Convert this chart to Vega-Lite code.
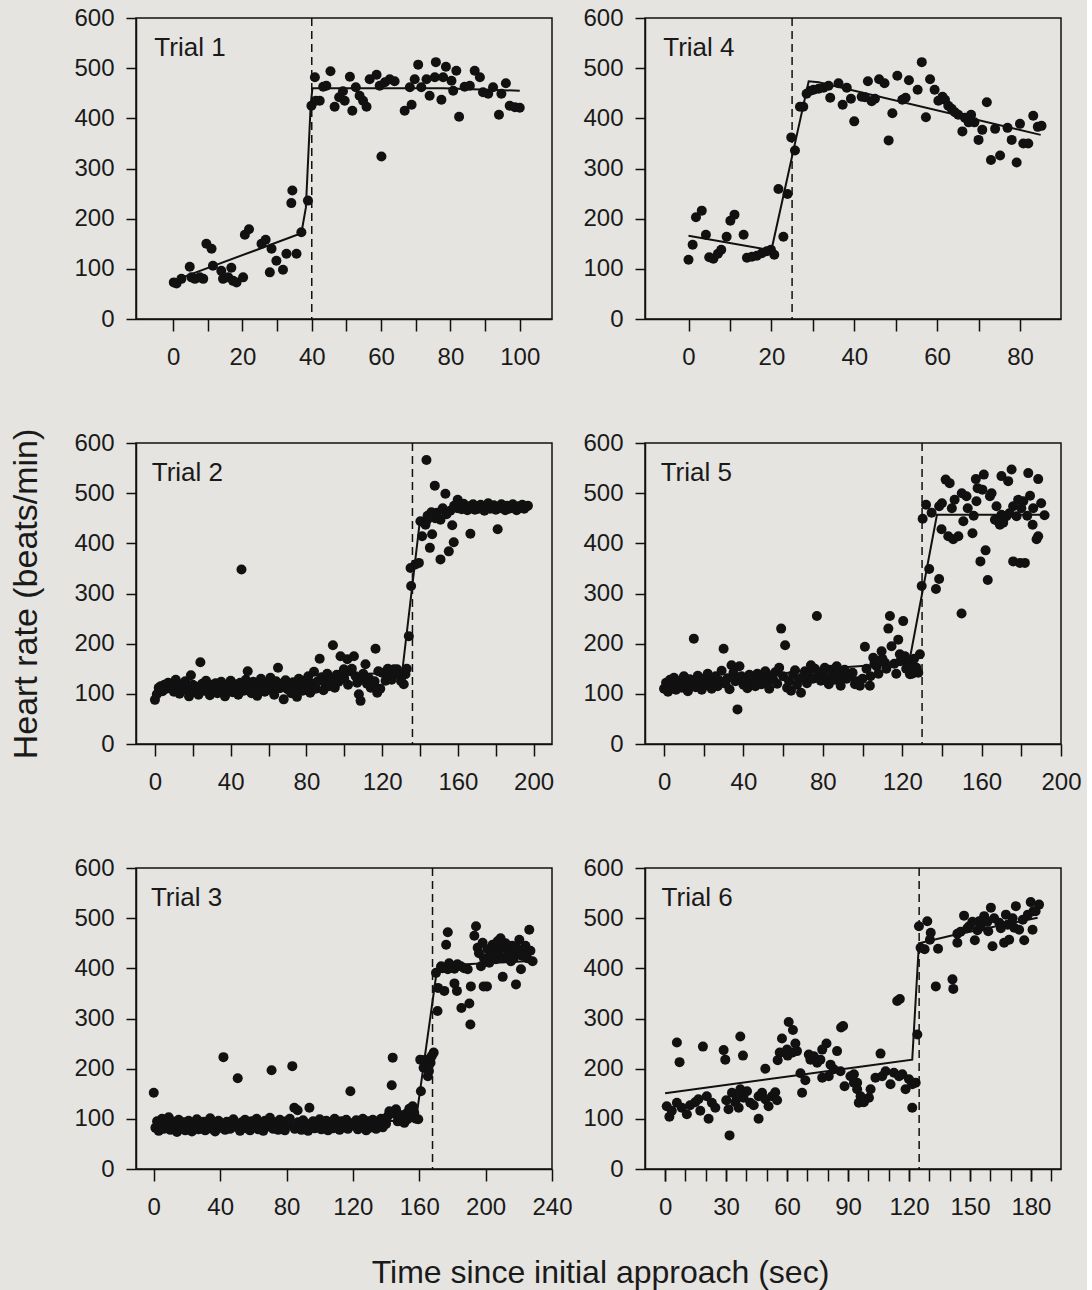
{
"$schema":"https://vega.github.io/schema/vega-lite/v6.json",
"padding":{"left":9,"top":5,"right":5,"bottom":5},
"background":"#e5e4e0",
"bounds":"flush",
"columns":2,
"spacing":{"row":124,"column":93},
"title":{"text":"Time since initial approach (sec)","orient":"bottom","anchor":"middle","frame":"bounds","fontSize":32,"font":"Liberation Sans","fontWeight":"normal","color":"#1a1a1a","offset":38,"dx":55},
"datasets":{
"t1":[{"t":0.2,"hr":73},{"t":1,"hr":71},{"t":2.4,"hr":80},{"t":4.8,"hr":104},{"t":5.3,"hr":83},{"t":6.3,"hr":80},{"t":7.7,"hr":83},{"t":8.7,"hr":80},{"t":9.6,"hr":150},{"t":11.1,"hr":140},{"t":11.5,"hr":106},{"t":13.9,"hr":96},{"t":14.4,"hr":80},{"t":15.9,"hr":83},{"t":17.3,"hr":76},{"t":16.8,"hr":102},{"t":18.3,"hr":73},{"t":20.2,"hr":83},{"t":20.7,"hr":168},{"t":21.9,"hr":179},{"t":25.5,"hr":150},{"t":26.7,"hr":158},{"t":28.4,"hr":140},{"t":27.9,"hr":93},{"t":29.8,"hr":116},{"t":31.7,"hr":98},{"t":32.7,"hr":130},{"t":35.6,"hr":130},{"t":37,"hr":173},{"t":34.4,"hr":256},{"t":34.1,"hr":231},{"t":38.9,"hr":236},{"t":39.9,"hr":425},{"t":40.9,"hr":482},{"t":41.2,"hr":435},{"t":42.3,"hr":435},{"t":43.3,"hr":463},{"t":45.4,"hr":494},{"t":44.2,"hr":465},{"t":46.6,"hr":423},{"t":47.9,"hr":442},{"t":49,"hr":454},{"t":49.5,"hr":435},{"t":51,"hr":483},{"t":51.7,"hr":415},{"t":52.7,"hr":462},{"t":53.8,"hr":445},{"t":54.8,"hr":435},{"t":55.8,"hr":423},{"t":56.7,"hr":478},{"t":58.7,"hr":487},{"t":59.6,"hr":465},{"t":61.1,"hr":472},{"t":62.5,"hr":478},{"t":63.9,"hr":474},{"t":60.1,"hr":324},{"t":66.8,"hr":415},{"t":68.3,"hr":462},{"t":68.8,"hr":427},{"t":69.7,"hr":478},{"t":70.7,"hr":507},{"t":71.6,"hr":462},{"t":73.1,"hr":478},{"t":74,"hr":445},{"t":75.5,"hr":482},{"t":75.8,"hr":512},{"t":77.4,"hr":437},{"t":77.9,"hr":482},{"t":78.7,"hr":503},{"t":80.3,"hr":475},{"t":80.8,"hr":455},{"t":81.7,"hr":495},{"t":82.5,"hr":403},{"t":84.1,"hr":463},{"t":85.6,"hr":465},{"t":87,"hr":495},{"t":88.5,"hr":482},{"t":89.4,"hr":452},{"t":90.9,"hr":449},{"t":92.3,"hr":462},{"t":94,"hr":407},{"t":94.7,"hr":449},{"t":96,"hr":470},{"t":97.1,"hr":425},{"t":98.6,"hr":422},{"t":100,"hr":421}],
"f1":[{"t":0,"hr":76},{"t":37,"hr":171},{"t":38.3,"hr":222},{"t":39.7,"hr":428},{"t":40.2,"hr":460},{"t":78,"hr":460},{"t":100,"hr":455}],
"t4":[{"t":0,"hr":118},{"t":1,"hr":148},{"t":1.8,"hr":203},{"t":3.2,"hr":216},{"t":4.2,"hr":168},{"t":5,"hr":123},{"t":6,"hr":120},{"t":7.1,"hr":130},{"t":7.9,"hr":138},{"t":9.2,"hr":164},{"t":10.1,"hr":196},{"t":11.1,"hr":208},{"t":13.3,"hr":168},{"t":14.1,"hr":122},{"t":15.3,"hr":124},{"t":16.5,"hr":126},{"t":17.7,"hr":131},{"t":18.9,"hr":135},{"t":19.9,"hr":138},{"t":20.7,"hr":128},{"t":21.7,"hr":259},{"t":22.9,"hr":164},{"t":23.9,"hr":249},{"t":24.8,"hr":362},{"t":25.7,"hr":336},{"t":26.9,"hr":423},{"t":27.7,"hr":423},{"t":28.5,"hr":449},{"t":29.4,"hr":455},{"t":30.2,"hr":457},{"t":31.4,"hr":459},{"t":32.6,"hr":461},{"t":33.8,"hr":465},{"t":34.2,"hr":441},{"t":36.2,"hr":470},{"t":37.2,"hr":427},{"t":38.2,"hr":461},{"t":39.2,"hr":439},{"t":40,"hr":394},{"t":41.8,"hr":443},{"t":42.6,"hr":442},{"t":43.3,"hr":474},{"t":44.2,"hr":434},{"t":45,"hr":439},{"t":46,"hr":478},{"t":47.3,"hr":470},{"t":48.3,"hr":356},{"t":49.2,"hr":410},{"t":50.4,"hr":485},{"t":51.6,"hr":437},{"t":52.4,"hr":441},{"t":53.2,"hr":476},{"t":55.3,"hr":457},{"t":56.3,"hr":512},{"t":57.3,"hr":402},{"t":58.3,"hr":478},{"t":59.4,"hr":457},{"t":60.3,"hr":435},{"t":61.3,"hr":443},{"t":61.9,"hr":437},{"t":62.7,"hr":425},{"t":63.5,"hr":419},{"t":64.3,"hr":412},{"t":65.1,"hr":407},{"t":66.1,"hr":374},{"t":66.7,"hr":401},{"t":67.6,"hr":392},{"t":68.2,"hr":407},{"t":69,"hr":392},{"t":70,"hr":357},{"t":70.9,"hr":377},{"t":72,"hr":432},{"t":73,"hr":317},{"t":74,"hr":379},{"t":75.2,"hr":326},{"t":77,"hr":381},{"t":78,"hr":357},{"t":79.2,"hr":312},{"t":80,"hr":389},{"t":80.8,"hr":350},{"t":82,"hr":350},{"t":83.2,"hr":405},{"t":84.3,"hr":383},{"t":85.2,"hr":385}],
"f4":[{"t":0,"hr":166},{"t":20,"hr":137},{"t":29,"hr":474},{"t":31.4,"hr":472},{"t":85,"hr":367}],
"t2":[{"t":0,"hr":88},{"t":1,"hr":99},{"t":2,"hr":112},{"t":3,"hr":115},{"t":4,"hr":105},{"t":5,"hr":118},{"t":6,"hr":110},{"t":7,"hr":122},{"t":8,"hr":113},{"t":9,"hr":120},{"t":10,"hr":104},{"t":11,"hr":128},{"t":12,"hr":116},{"t":13,"hr":100},{"t":14,"hr":119},{"t":15,"hr":108},{"t":16,"hr":125},{"t":17,"hr":112},{"t":18,"hr":95},{"t":19,"hr":137},{"t":20,"hr":118},{"t":21,"hr":104},{"t":22,"hr":114},{"t":23,"hr":98},{"t":24,"hr":163},{"t":25,"hr":120},{"t":26,"hr":106},{"t":27,"hr":126},{"t":28,"hr":112},{"t":29,"hr":97},{"t":30,"hr":118},{"t":31,"hr":109},{"t":32,"hr":121},{"t":33,"hr":101},{"t":34,"hr":115},{"t":35,"hr":124},{"t":36,"hr":108},{"t":37,"hr":95},{"t":38,"hr":117},{"t":39,"hr":111},{"t":40,"hr":126},{"t":41,"hr":103},{"t":42,"hr":119},{"t":43,"hr":110},{"t":44,"hr":98},{"t":45,"hr":122},{"t":45.7,"hr":348},{"t":46,"hr":113},{"t":47,"hr":106},{"t":48,"hr":128},{"t":49,"hr":145},{"t":50,"hr":117},{"t":51,"hr":101},{"t":52,"hr":124},{"t":53,"hr":110},{"t":54,"hr":96},{"t":55,"hr":119},{"t":56,"hr":130},{"t":57,"hr":112},{"t":58,"hr":104},{"t":59,"hr":121},{"t":60,"hr":108},{"t":61,"hr":132},{"t":62,"hr":115},{"t":63,"hr":98},{"t":64,"hr":125},{"t":65,"hr":152},{"t":66,"hr":111},{"t":67,"hr":120},{"t":68,"hr":89},{"t":69,"hr":127},{"t":70,"hr":109},{"t":71,"hr":116},{"t":72,"hr":101},{"t":73,"hr":123},{"t":74,"hr":112},{"t":75,"hr":94},{"t":76,"hr":130},{"t":77,"hr":118},{"t":78,"hr":106},{"t":79,"hr":126},{"t":80,"hr":113},{"t":81,"hr":135},{"t":82,"hr":102},{"t":83,"hr":120},{"t":84,"hr":144},{"t":85,"hr":110},{"t":86,"hr":125},{"t":87,"hr":170},{"t":88,"hr":133},{"t":89,"hr":107},{"t":90,"hr":120},{"t":91,"hr":140},{"t":92,"hr":115},{"t":93,"hr":128},{"t":94,"hr":197},{"t":95,"hr":112},{"t":96,"hr":138},{"t":97,"hr":124},{"t":98,"hr":175},{"t":101.6,"hr":169},{"t":105.1,"hr":175},{"t":99.8,"hr":149},{"t":103.3,"hr":145},{"t":106,"hr":135},{"t":111.2,"hr":159},{"t":116.5,"hr":190},{"t":106.8,"hr":122},{"t":107.7,"hr":99},{"t":108.6,"hr":86},{"t":115.6,"hr":119},{"t":117.4,"hr":102},{"t":120,"hr":142},{"t":121.8,"hr":126},{"t":124.4,"hr":135},{"t":126.2,"hr":149},{"t":127.9,"hr":149},{"t":129.7,"hr":135},{"t":131.4,"hr":119},{"t":132.3,"hr":139},{"t":99,"hr":140},{"t":100,"hr":130},{"t":102,"hr":118},{"t":104,"hr":150},{"t":109,"hr":128},{"t":110,"hr":140},{"t":112,"hr":120},{"t":113,"hr":131},{"t":114,"hr":112},{"t":116,"hr":125},{"t":118,"hr":145},{"t":119,"hr":110},{"t":123,"hr":150},{"t":125,"hr":128},{"t":127,"hr":140},{"t":130,"hr":125},{"t":133,"hr":150},{"t":134.1,"hr":215},{"t":135.3,"hr":315},{"t":135,"hr":351},{"t":137.6,"hr":358},{"t":139.4,"hr":361},{"t":140.2,"hr":444},{"t":141.1,"hr":414},{"t":142.9,"hr":437},{"t":143.4,"hr":566},{"t":143.8,"hr":447},{"t":145.2,"hr":391},{"t":146.4,"hr":418},{"t":147.8,"hr":515},{"t":149,"hr":461},{"t":150.8,"hr":368},{"t":150.8,"hr":447},{"t":153.4,"hr":499},{"t":155.2,"hr":384},{"t":157,"hr":436},{"t":157.8,"hr":402},{"t":159.6,"hr":471},{"t":159.9,"hr":487},{"t":166.6,"hr":419},{"t":181,"hr":428},{"t":144,"hr":455},{"t":146,"hr":462},{"t":148,"hr":450},{"t":152,"hr":470},{"t":154,"hr":458},{"t":156,"hr":465},{"t":158,"hr":475},{"t":160,"hr":470},{"t":161,"hr":476},{"t":162,"hr":468},{"t":163,"hr":479},{"t":164,"hr":472},{"t":165,"hr":466},{"t":166,"hr":474},{"t":167,"hr":470},{"t":168,"hr":478},{"t":169,"hr":467},{"t":170,"hr":473},{"t":171,"hr":469},{"t":172,"hr":477},{"t":173,"hr":471},{"t":174,"hr":465},{"t":175,"hr":474},{"t":176,"hr":480},{"t":177,"hr":469},{"t":178,"hr":472},{"t":179,"hr":476},{"t":180,"hr":467},{"t":181.5,"hr":473},{"t":182,"hr":470},{"t":183,"hr":478},{"t":184,"hr":471},{"t":185,"hr":466},{"t":186,"hr":475},{"t":187,"hr":469},{"t":188,"hr":473},{"t":189,"hr":478},{"t":190,"hr":470},{"t":191,"hr":466},{"t":192,"hr":474},{"t":193,"hr":471},{"t":194,"hr":477},{"t":195,"hr":469},{"t":196,"hr":473},{"t":197,"hr":475}],
"f2":[{"t":0,"hr":109},{"t":72,"hr":122},{"t":108,"hr":140},{"t":130.5,"hr":141},{"t":140,"hr":447},{"t":149,"hr":461},{"t":160,"hr":472},{"t":198,"hr":474}],
"t5":[{"t":0,"hr":110},{"t":1,"hr":122},{"t":2,"hr":104},{"t":3,"hr":128},{"t":4,"hr":115},{"t":5,"hr":132},{"t":6,"hr":108},{"t":7,"hr":119},{"t":8,"hr":126},{"t":9,"hr":112},{"t":10,"hr":135},{"t":11,"hr":118},{"t":12,"hr":105},{"t":13,"hr":129},{"t":14,"hr":121},{"t":15,"hr":210},{"t":16,"hr":113},{"t":17,"hr":136},{"t":18,"hr":124},{"t":19,"hr":108},{"t":20,"hr":130},{"t":21,"hr":117},{"t":22,"hr":140},{"t":23,"hr":122},{"t":24,"hr":110},{"t":25,"hr":127},{"t":26,"hr":135},{"t":27,"hr":115},{"t":28,"hr":126},{"t":29,"hr":146},{"t":30,"hr":190},{"t":31,"hr":120},{"t":32,"hr":131},{"t":33,"hr":109},{"t":34,"hr":157},{"t":35,"hr":142},{"t":36,"hr":125},{"t":37,"hr":69},{"t":38,"hr":155},{"t":39,"hr":135},{"t":40,"hr":118},{"t":41,"hr":128},{"t":42,"hr":111},{"t":43,"hr":138},{"t":44,"hr":124},{"t":45,"hr":132},{"t":46,"hr":115},{"t":47,"hr":140},{"t":48,"hr":127},{"t":49,"hr":119},{"t":50,"hr":133},{"t":51,"hr":145},{"t":52,"hr":122},{"t":53,"hr":110},{"t":54,"hr":136},{"t":55,"hr":128},{"t":56,"hr":143},{"t":57,"hr":120},{"t":58,"hr":152},{"t":59,"hr":230},{"t":60,"hr":135},{"t":61,"hr":197},{"t":62,"hr":112},{"t":63,"hr":125},{"t":64,"hr":106},{"t":65,"hr":138},{"t":66,"hr":147},{"t":67,"hr":118},{"t":68,"hr":129},{"t":69,"hr":102},{"t":70,"hr":134},{"t":71,"hr":145},{"t":72,"hr":121},{"t":73,"hr":138},{"t":74,"hr":157},{"t":75,"hr":130},{"t":76,"hr":150},{"t":77,"hr":255},{"t":78,"hr":138},{"t":79,"hr":126},{"t":80,"hr":145},{"t":81,"hr":152},{"t":82,"hr":131},{"t":83,"hr":119},{"t":84,"hr":148},{"t":85,"hr":136},{"t":86,"hr":128},{"t":87,"hr":155},{"t":88,"hr":140},{"t":89,"hr":116},{"t":90,"hr":132},{"t":91,"hr":148},{"t":93.7,"hr":135},{"t":96.2,"hr":119},{"t":98.7,"hr":116},{"t":101.2,"hr":194},{"t":103.7,"hr":116},{"t":105.4,"hr":172},{"t":107.1,"hr":155},{"t":109.6,"hr":185},{"t":111.3,"hr":162},{"t":113,"hr":230},{"t":113.8,"hr":255},{"t":114.6,"hr":195},{"t":118,"hr":208},{"t":118.8,"hr":179},{"t":120.5,"hr":245},{"t":121.4,"hr":175},{"t":123,"hr":159},{"t":123.9,"hr":139},{"t":125.6,"hr":155},{"t":127.2,"hr":152},{"t":128.9,"hr":179},{"t":128.1,"hr":142},{"t":92,"hr":130},{"t":95,"hr":142},{"t":97,"hr":125},{"t":100,"hr":130},{"t":102,"hr":150},{"t":104,"hr":135},{"t":106,"hr":160},{"t":108,"hr":140},{"t":110,"hr":170},{"t":112,"hr":150},{"t":116,"hr":160},{"t":117,"hr":140},{"t":119,"hr":165},{"t":122,"hr":150},{"t":125,"hr":140},{"t":126,"hr":170},{"t":129.8,"hr":315},{"t":133.6,"hr":349},{"t":137,"hr":309},{"t":138.6,"hr":329},{"t":132,"hr":477},{"t":134.8,"hr":461},{"t":138.6,"hr":474},{"t":130.3,"hr":449},{"t":141.9,"hr":527},{"t":143.9,"hr":520},{"t":146.4,"hr":487},{"t":139.8,"hr":428},{"t":143.2,"hr":414},{"t":145.7,"hr":408},{"t":148.3,"hr":414},{"t":150.8,"hr":444},{"t":152.4,"hr":494},{"t":155.4,"hr":420},{"t":157.4,"hr":484},{"t":159.4,"hr":364},{"t":162,"hr":386},{"t":163.1,"hr":327},{"t":149.9,"hr":260},{"t":157.1,"hr":528},{"t":161.1,"hr":537},{"t":160.4,"hr":507},{"t":164.2,"hr":494},{"t":167.5,"hr":474},{"t":166.7,"hr":447},{"t":169.2,"hr":437},{"t":170.9,"hr":441},{"t":172.5,"hr":454},{"t":170,"hr":534},{"t":173.4,"hr":524},{"t":175.1,"hr":547},{"t":175.9,"hr":474},{"t":178.4,"hr":487},{"t":181,"hr":484},{"t":184.4,"hr":495},{"t":183.5,"hr":540},{"t":188.5,"hr":528},{"t":175.9,"hr":364},{"t":179.3,"hr":361},{"t":181.8,"hr":361},{"t":185.7,"hr":437},{"t":188.5,"hr":414},{"t":187.7,"hr":408},{"t":191.7,"hr":456},{"t":177.6,"hr":454},{"t":170,"hr":457},{"t":140,"hr":480},{"t":145,"hr":470},{"t":150,"hr":500},{"t":153,"hr":470},{"t":156,"hr":455},{"t":158,"hr":510},{"t":165,"hr":500},{"t":168,"hr":445},{"t":174,"hr":460},{"t":180,"hr":470},{"t":183,"hr":455},{"t":186,"hr":470},{"t":190,"hr":480}],
"f5":[{"t":0,"hr":118},{"t":43,"hr":133},{"t":80,"hr":150},{"t":98,"hr":155},{"t":123.5,"hr":163},{"t":137.5,"hr":457},{"t":191,"hr":457}],
"t3":[{"t":0,"hr":152},{"t":1,"hr":82},{"t":2,"hr":95},{"t":3,"hr":76},{"t":4,"hr":88},{"t":5,"hr":100},{"t":6,"hr":80},{"t":7,"hr":92},{"t":8,"hr":86},{"t":9,"hr":103},{"t":10,"hr":78},{"t":11,"hr":95},{"t":12,"hr":84},{"t":13,"hr":90},{"t":14,"hr":74},{"t":15,"hr":98},{"t":16,"hr":86},{"t":17,"hr":80},{"t":18,"hr":93},{"t":19,"hr":77},{"t":20,"hr":89},{"t":21,"hr":96},{"t":22,"hr":82},{"t":23,"hr":75},{"t":24,"hr":91},{"t":25,"hr":86},{"t":26,"hr":99},{"t":27,"hr":79},{"t":28,"hr":88},{"t":29,"hr":83},{"t":30,"hr":94},{"t":31,"hr":77},{"t":32,"hr":90},{"t":33,"hr":85},{"t":34,"hr":101},{"t":35,"hr":80},{"t":36,"hr":92},{"t":37,"hr":75},{"t":38,"hr":87},{"t":39,"hr":96},{"t":40,"hr":82},{"t":41,"hr":89},{"t":42,"hr":223},{"t":43,"hr":78},{"t":44,"hr":94},{"t":45,"hr":86},{"t":46,"hr":80},{"t":47,"hr":91},{"t":48,"hr":99},{"t":49,"hr":84},{"t":50.6,"hr":181},{"t":51,"hr":88},{"t":52,"hr":76},{"t":53,"hr":93},{"t":54,"hr":85},{"t":55,"hr":98},{"t":56,"hr":81},{"t":57,"hr":90},{"t":58,"hr":77},{"t":59,"hr":95},{"t":60,"hr":87},{"t":61,"hr":83},{"t":62,"hr":100},{"t":63,"hr":79},{"t":64,"hr":92},{"t":65,"hr":86},{"t":66,"hr":76},{"t":67,"hr":96},{"t":68,"hr":84},{"t":69,"hr":89},{"t":70,"hr":102},{"t":71,"hr":197},{"t":72,"hr":80},{"t":73,"hr":93},{"t":74,"hr":87},{"t":75,"hr":78},{"t":76,"hr":98},{"t":77,"hr":85},{"t":78,"hr":91},{"t":79,"hr":77},{"t":80,"hr":95},{"t":81,"hr":88},{"t":82,"hr":100},{"t":83.5,"hr":205},{"t":84.7,"hr":122},{"t":85,"hr":80},{"t":86.7,"hr":117},{"t":87,"hr":93},{"t":88,"hr":86},{"t":89,"hr":78},{"t":90,"hr":97},{"t":91,"hr":84},{"t":92,"hr":90},{"t":93,"hr":76},{"t":93.8,"hr":122},{"t":95,"hr":88},{"t":96,"hr":95},{"t":97,"hr":81},{"t":98,"hr":92},{"t":99,"hr":86},{"t":100,"hr":99},{"t":101,"hr":79},{"t":102,"hr":90},{"t":103,"hr":84},{"t":104,"hr":96},{"t":105,"hr":77},{"t":106,"hr":93},{"t":107,"hr":87},{"t":108,"hr":81},{"t":109,"hr":100},{"t":110,"hr":85},{"t":111,"hr":92},{"t":112,"hr":78},{"t":113,"hr":95},{"t":114,"hr":88},{"t":115,"hr":83},{"t":116,"hr":98},{"t":117,"hr":80},{"t":118.5,"hr":155},{"t":119,"hr":90},{"t":120,"hr":91},{"t":121,"hr":86},{"t":122,"hr":97},{"t":123,"hr":79},{"t":124,"hr":93},{"t":125,"hr":84},{"t":126,"hr":100},{"t":127,"hr":88},{"t":128,"hr":77},{"t":129,"hr":95},{"t":130,"hr":82},{"t":131,"hr":91},{"t":132,"hr":98},{"t":133,"hr":85},{"t":134,"hr":80},{"t":135,"hr":94},{"t":136,"hr":87},{"t":137,"hr":100},{"t":138,"hr":83},{"t":139,"hr":96},{"t":140,"hr":90},{"t":141,"hr":105},{"t":142,"hr":115},{"t":143.4,"hr":167},{"t":144,"hr":222},{"t":145,"hr":110},{"t":146,"hr":119},{"t":147,"hr":95},{"t":148,"hr":108},{"t":149,"hr":105},{"t":150,"hr":100},{"t":151,"hr":92},{"t":152,"hr":110},{"t":153,"hr":99},{"t":154,"hr":120},{"t":155,"hr":105},{"t":156,"hr":125},{"t":157,"hr":112},{"t":158,"hr":100},{"t":159.4,"hr":99},{"t":161,"hr":155},{"t":162.6,"hr":202},{"t":160.6,"hr":218},{"t":163.7,"hr":218},{"t":165.2,"hr":185},{"t":166.8,"hr":212},{"t":168.7,"hr":232},{"t":165.8,"hr":195},{"t":167.5,"hr":225},{"t":170.1,"hr":391},{"t":171.3,"hr":361},{"t":171,"hr":315},{"t":173.2,"hr":404},{"t":175.1,"hr":355},{"t":176.2,"hr":447},{"t":177.2,"hr":472},{"t":177.2,"hr":398},{"t":181.2,"hr":399},{"t":181.2,"hr":370},{"t":182.7,"hr":355},{"t":185.1,"hr":404},{"t":185.4,"hr":321},{"t":189.2,"hr":398},{"t":190.2,"hr":330},{"t":190.8,"hr":288},{"t":191.1,"hr":364},{"t":193.2,"hr":465},{"t":194.2,"hr":484},{"t":195.2,"hr":441},{"t":197.2,"hr":404},{"t":198.2,"hr":451},{"t":198.8,"hr":364},{"t":200.8,"hr":364},{"t":201.2,"hr":438},{"t":202.2,"hr":411},{"t":204.2,"hr":447},{"t":206.2,"hr":418},{"t":207.2,"hr":454},{"t":210.3,"hr":441},{"t":210.3,"hr":383},{"t":213.3,"hr":444},{"t":215.3,"hr":414},{"t":218.3,"hr":432},{"t":218.3,"hr":368},{"t":220.3,"hr":457},{"t":221.3,"hr":398},{"t":223.3,"hr":431},{"t":226.3,"hr":477},{"t":228.3,"hr":414},{"t":196,"hr":430},{"t":199,"hr":420},{"t":203,"hr":425},{"t":205,"hr":440},{"t":208,"hr":430},{"t":209,"hr":460},{"t":211,"hr":420},{"t":212,"hr":450},{"t":214,"hr":430},{"t":216,"hr":445},{"t":217,"hr":420},{"t":219,"hr":440},{"t":222,"hr":425},{"t":224,"hr":445},{"t":225,"hr":420},{"t":227,"hr":435},{"t":180,"hr":404},{"t":183,"hr":408},{"t":187,"hr":400},{"t":178,"hr":410},{"t":174,"hr":400}],
"f3":[{"t":0,"hr":82},{"t":158,"hr":97},{"t":171,"hr":405},{"t":229,"hr":415}],
"t6":[{"t":0.8,"hr":125},{"t":3.3,"hr":116},{"t":2.1,"hr":104},{"t":5.8,"hr":132},{"t":8.2,"hr":122},{"t":10.7,"hr":109},{"t":12.3,"hr":127},{"t":14.8,"hr":133},{"t":16.4,"hr":139},{"t":17.3,"hr":116},{"t":21.4,"hr":100},{"t":20.5,"hr":145},{"t":23,"hr":132},{"t":24.7,"hr":122},{"t":30.1,"hr":137},{"t":31.2,"hr":119},{"t":32.9,"hr":152},{"t":34.5,"hr":133},{"t":36.2,"hr":122},{"t":38.6,"hr":142},{"t":40.3,"hr":155},{"t":41.9,"hr":132},{"t":43.6,"hr":127},{"t":46,"hr":145},{"t":47.7,"hr":152},{"t":49.3,"hr":139},{"t":50.9,"hr":125},{"t":52.6,"hr":145},{"t":54.2,"hr":153},{"t":55.1,"hr":137},{"t":37,"hr":159},{"t":35.3,"hr":142},{"t":5.8,"hr":252},{"t":7.1,"hr":213},{"t":18.6,"hr":244},{"t":28.8,"hr":237},{"t":29.6,"hr":218},{"t":37,"hr":264},{"t":38.3,"hr":226},{"t":49.3,"hr":200},{"t":31.7,"hr":67},{"t":46,"hr":100},{"t":60.8,"hr":293},{"t":62.9,"hr":277},{"t":57.5,"hr":260},{"t":60,"hr":238},{"t":56.4,"hr":232},{"t":55.4,"hr":217},{"t":64.1,"hr":250},{"t":64.9,"hr":235},{"t":62.5,"hr":232},{"t":60.3,"hr":226},{"t":86.6,"hr":282},{"t":87.6,"hr":285},{"t":79.4,"hr":250},{"t":84.6,"hr":235},{"t":77.3,"hr":238},{"t":73.1,"hr":225},{"t":71.5,"hr":218},{"t":74.8,"hr":212},{"t":81.4,"hr":208},{"t":83,"hr":199},{"t":86.3,"hr":195},{"t":66.6,"hr":191},{"t":69,"hr":177},{"t":77.3,"hr":182},{"t":67.4,"hr":152},{"t":88.3,"hr":165},{"t":92.9,"hr":189},{"t":94.5,"hr":172},{"t":95.3,"hr":132},{"t":70.7,"hr":228},{"t":76.4,"hr":218},{"t":80.5,"hr":185},{"t":91.2,"hr":185},{"t":92.9,"hr":172},{"t":94.5,"hr":159},{"t":96.2,"hr":145},{"t":97.8,"hr":133},{"t":100.3,"hr":142},{"t":101.1,"hr":159},{"t":103.5,"hr":182},{"t":106,"hr":230},{"t":106.8,"hr":185},{"t":108.5,"hr":195},{"t":110.9,"hr":169},{"t":112.6,"hr":192},{"t":115.1,"hr":185},{"t":116.7,"hr":189},{"t":118.3,"hr":159},{"t":120,"hr":179},{"t":121.6,"hr":169},{"t":123.3,"hr":172},{"t":121.6,"hr":122},{"t":114.2,"hr":335},{"t":115.5,"hr":339},{"t":124.1,"hr":268},{"t":124.9,"hr":484},{"t":129,"hr":494},{"t":125.7,"hr":441},{"t":127.7,"hr":438},{"t":130.7,"hr":471},{"t":130.3,"hr":457},{"t":134.3,"hr":439},{"t":133.2,"hr":364},{"t":141.4,"hr":378},{"t":141.8,"hr":359},{"t":143.8,"hr":469},{"t":147.1,"hr":505},{"t":149.6,"hr":484},{"t":152.4,"hr":456},{"t":154.5,"hr":494},{"t":157,"hr":504},{"t":160.3,"hr":521},{"t":159,"hr":474},{"t":161.1,"hr":444},{"t":164.4,"hr":491},{"t":167.7,"hr":507},{"t":166.8,"hr":451},{"t":169.3,"hr":457},{"t":172.6,"hr":524},{"t":171.8,"hr":481},{"t":174.2,"hr":477},{"t":176.7,"hr":456},{"t":179.9,"hr":532},{"t":181.3,"hr":514},{"t":184,"hr":527},{"t":180.8,"hr":477},{"t":143.8,"hr":451},{"t":145.4,"hr":473},{"t":148.7,"hr":480},{"t":151.2,"hr":493},{"t":153.7,"hr":476},{"t":155.3,"hr":483},{"t":158.6,"hr":493},{"t":161.9,"hr":500},{"t":165.2,"hr":480},{"t":168.5,"hr":487},{"t":171,"hr":500},{"t":176,"hr":497},{"t":178.5,"hr":507},{"t":182.3,"hr":514}],
"f6":[{"t":0,"hr":151},{"t":96,"hr":204},{"t":121.6,"hr":218},{"t":124.9,"hr":450},{"t":140.5,"hr":465},{"t":183.3,"hr":501}]
},
"concat":[
{"width":416,"height":301,"layer":[
 {"data":{"name":"t1"},"mark":{"type":"circle","size":100,"color":"#111","opacity":1},"encoding":{"x":{"field":"t","type":"quantitative","scale":{"domain":[-10.7,109.3],"nice":false,"zero":false},"axis":{"values":[0,10,20,30,40,50,60,70,80,90,100],"labelExpr":"datum.value % 20 == 0 ? datum.label : ''","title":null}},"y":{"field":"hr","type":"quantitative","scale":{"domain":[0,600],"nice":false},"axis":{"values":[0,50,100,150,200,250,300,350,400,450,500,550,600],"labelExpr":"datum.value % 100 == 0 ? datum.label : ''","title":null}}}},
 {"data":{"name":"f1"},"mark":{"type":"line","color":"#111","strokeWidth":2},"encoding":{"x":{"field":"t","type":"quantitative"},"y":{"field":"hr","type":"quantitative"}}},
 {"data":{"values":[{"t":40}]},"mark":{"type":"rule","color":"#111","strokeWidth":1.5,"strokeDash":[8,5]},"encoding":{"x":{"field":"t","type":"quantitative"}}},
 {"data":{"values":[{"label":"Trial 1"}]},"mark":{"type":"text","align":"left","baseline":"alphabetic","fontSize":26,"font":"Liberation Sans","color":"#1a1a1a"},"encoding":{"text":{"field":"label"},"x":{"datum":-5.4,"type":"quantitative"},"y":{"datum":524,"type":"quantitative"}}}
]},
{"width":416,"height":301,"layer":[
 {"data":{"name":"t4"},"mark":{"type":"circle","size":100,"color":"#111","opacity":1},"encoding":{"x":{"field":"t","type":"quantitative","scale":{"domain":[-10.5,89.9],"nice":false,"zero":false},"axis":{"values":[0,10,20,30,40,50,60,70,80],"labelExpr":"datum.value % 20 == 0 ? datum.label : ''","title":null}},"y":{"field":"hr","type":"quantitative","scale":{"domain":[0,600],"nice":false},"axis":{"values":[0,50,100,150,200,250,300,350,400,450,500,550,600],"labelExpr":"datum.value % 100 == 0 ? datum.label : ''","title":null}}}},
 {"data":{"name":"f4"},"mark":{"type":"line","color":"#111","strokeWidth":2},"encoding":{"x":{"field":"t","type":"quantitative"},"y":{"field":"hr","type":"quantitative"}}},
 {"data":{"values":[{"t":25}]},"mark":{"type":"rule","color":"#111","strokeWidth":1.5,"strokeDash":[8,5]},"encoding":{"x":{"field":"t","type":"quantitative"}}},
 {"data":{"values":[{"label":"Trial 4"}]},"mark":{"type":"text","align":"left","baseline":"alphabetic","fontSize":26,"font":"Liberation Sans","color":"#1a1a1a"},"encoding":{"text":{"field":"label"},"x":{"datum":-6.1,"type":"quantitative"},"y":{"datum":524,"type":"quantitative"}}}
]},
{"width":416,"height":301,"layer":[
 {"data":{"name":"t2"},"mark":{"type":"circle","size":100,"color":"#111","opacity":1},"encoding":{"x":{"field":"t","type":"quantitative","scale":{"domain":[-10,209.7],"nice":false,"zero":false},"axis":{"values":[0,10,20,30,40,50,60,70,80,90,100,110,120,130,140,150,160,170,180,190,200],"labelExpr":"datum.value % 40 == 0 ? datum.label : ''","title":null}},"y":{"field":"hr","type":"quantitative","scale":{"domain":[0,600],"nice":false},"axis":{"values":[0,50,100,150,200,250,300,350,400,450,500,550,600],"labelExpr":"datum.value % 100 == 0 ? datum.label : ''","title":"Heart rate (beats/min)","titleFontSize":34,"titlePadding":30}}}},
 {"data":{"name":"f2"},"mark":{"type":"line","color":"#111","strokeWidth":2},"encoding":{"x":{"field":"t","type":"quantitative"},"y":{"field":"hr","type":"quantitative"}}},
 {"data":{"values":[{"t":136}]},"mark":{"type":"rule","color":"#111","strokeWidth":1.5,"strokeDash":[8,5]},"encoding":{"x":{"field":"t","type":"quantitative"}}},
 {"data":{"values":[{"label":"Trial 2"}]},"mark":{"type":"text","align":"left","baseline":"alphabetic","fontSize":26,"font":"Liberation Sans","color":"#1a1a1a"},"encoding":{"text":{"field":"label"},"x":{"datum":-1.7,"type":"quantitative"},"y":{"datum":524,"type":"quantitative"}}}
]},
{"width":416,"height":301,"layer":[
 {"data":{"name":"t5"},"mark":{"type":"circle","size":100,"color":"#111","opacity":1},"encoding":{"x":{"field":"t","type":"quantitative","scale":{"domain":[-9.6,200],"nice":false,"zero":false},"axis":{"values":[0,10,20,30,40,50,60,70,80,90,100,110,120,130,140,150,160,170,180,190,200],"labelExpr":"datum.value % 40 == 0 ? datum.label : ''","title":null}},"y":{"field":"hr","type":"quantitative","scale":{"domain":[0,600],"nice":false},"axis":{"values":[0,50,100,150,200,250,300,350,400,450,500,550,600],"labelExpr":"datum.value % 100 == 0 ? datum.label : ''","title":null}}}},
 {"data":{"name":"f5"},"mark":{"type":"line","color":"#111","strokeWidth":2},"encoding":{"x":{"field":"t","type":"quantitative"},"y":{"field":"hr","type":"quantitative"}}},
 {"data":{"values":[{"t":130}]},"mark":{"type":"rule","color":"#111","strokeWidth":1.5,"strokeDash":[8,5]},"encoding":{"x":{"field":"t","type":"quantitative"}}},
 {"data":{"values":[{"label":"Trial 5"}]},"mark":{"type":"text","align":"left","baseline":"alphabetic","fontSize":26,"font":"Liberation Sans","color":"#1a1a1a"},"encoding":{"text":{"field":"label"},"x":{"datum":-1.7,"type":"quantitative"},"y":{"datum":524,"type":"quantitative"}}}
]},
{"width":416,"height":301,"layer":[
 {"data":{"name":"t3"},"mark":{"type":"circle","size":100,"color":"#111","opacity":1},"encoding":{"x":{"field":"t","type":"quantitative","scale":{"domain":[-10.7,240],"nice":false,"zero":false},"axis":{"values":[0,10,20,30,40,50,60,70,80,90,100,110,120,130,140,150,160,170,180,190,200,210,220,230,240],"labelExpr":"datum.value % 40 == 0 ? datum.label : ''","title":null}},"y":{"field":"hr","type":"quantitative","scale":{"domain":[0,600],"nice":false},"axis":{"values":[0,50,100,150,200,250,300,350,400,450,500,550,600],"labelExpr":"datum.value % 100 == 0 ? datum.label : ''","title":null}}}},
 {"data":{"name":"f3"},"mark":{"type":"line","color":"#111","strokeWidth":2},"encoding":{"x":{"field":"t","type":"quantitative"},"y":{"field":"hr","type":"quantitative"}}},
 {"data":{"values":[{"t":168}]},"mark":{"type":"rule","color":"#111","strokeWidth":1.5,"strokeDash":[8,5]},"encoding":{"x":{"field":"t","type":"quantitative"}}},
 {"data":{"values":[{"label":"Trial 3"}]},"mark":{"type":"text","align":"left","baseline":"alphabetic","fontSize":26,"font":"Liberation Sans","color":"#1a1a1a"},"encoding":{"text":{"field":"label"},"x":{"datum":-1.7,"type":"quantitative"},"y":{"datum":524,"type":"quantitative"}}}
]},
{"width":416,"height":301,"resolve":{"scale":{"x":"independent"},"axis":{"x":"independent"}},"layer":[
 {"data":{"name":"t6"},"mark":{"type":"circle","size":100,"color":"#111","opacity":1},"encoding":{"x":{"field":"t","type":"quantitative","scale":{"domain":[-9.9,194.8],"nice":false,"zero":false},"axis":{"values":[0,10,20,30,40,50,60,70,80,90,100,110,120,130,140,150,160,170,180,190],"labels":false,"orient":"bottom","title":null}},"y":{"field":"hr","type":"quantitative","scale":{"domain":[0,600],"nice":false},"axis":{"values":[0,50,100,150,200,250,300,350,400,450,500,550,600],"labelExpr":"datum.value % 100 == 0 ? datum.label : ''","title":null}}}},
 {"data":{"name":"f6"},"mark":{"type":"line","color":"#111","strokeWidth":2},"encoding":{"x":{"field":"t","type":"quantitative","scale":{"domain":[-9.9,194.8],"nice":false,"zero":false},"axis":null},"y":{"field":"hr","type":"quantitative"}}},
 {"data":{"values":[{"t":125}]},"mark":{"type":"rule","color":"#111","strokeWidth":1.5,"strokeDash":[8,5]},"encoding":{"x":{"field":"t","type":"quantitative","scale":{"domain":[-9.9,194.8],"nice":false,"zero":false},"axis":{"values":[0,30,60,90,120,150,180],"orient":"bottom","domain":false,"title":null}}}},
 {"data":{"values":[{"label":"Trial 6"}]},"mark":{"type":"text","align":"left","baseline":"alphabetic","fontSize":26,"font":"Liberation Sans","color":"#1a1a1a"},"encoding":{"text":{"field":"label"},"x":{"datum":-1.75,"type":"quantitative","scale":{"domain":[-9.9,194.8],"nice":false,"zero":false},"axis":null},"y":{"datum":524,"type":"quantitative"}}}
]}
],
"config":{
 "view":{"stroke":"#111","strokeWidth":1.5},
 "axis":{"domainColor":"#111","domainWidth":1.5,"tickColor":"#111","tickWidth":1.5,"labelFont":"Liberation Sans","labelFontSize":24,"labelColor":"#1a1a1a","grid":false,"labelOverlap":false,"labelFlush":false,"titleFont":"Liberation Sans","titleFontWeight":"normal","titleColor":"#1a1a1a"},
 "axisX":{"tickSize":12,"labelPadding":14},
 "axisY":{"tickSize":10,"labelPadding":12}
}
}
